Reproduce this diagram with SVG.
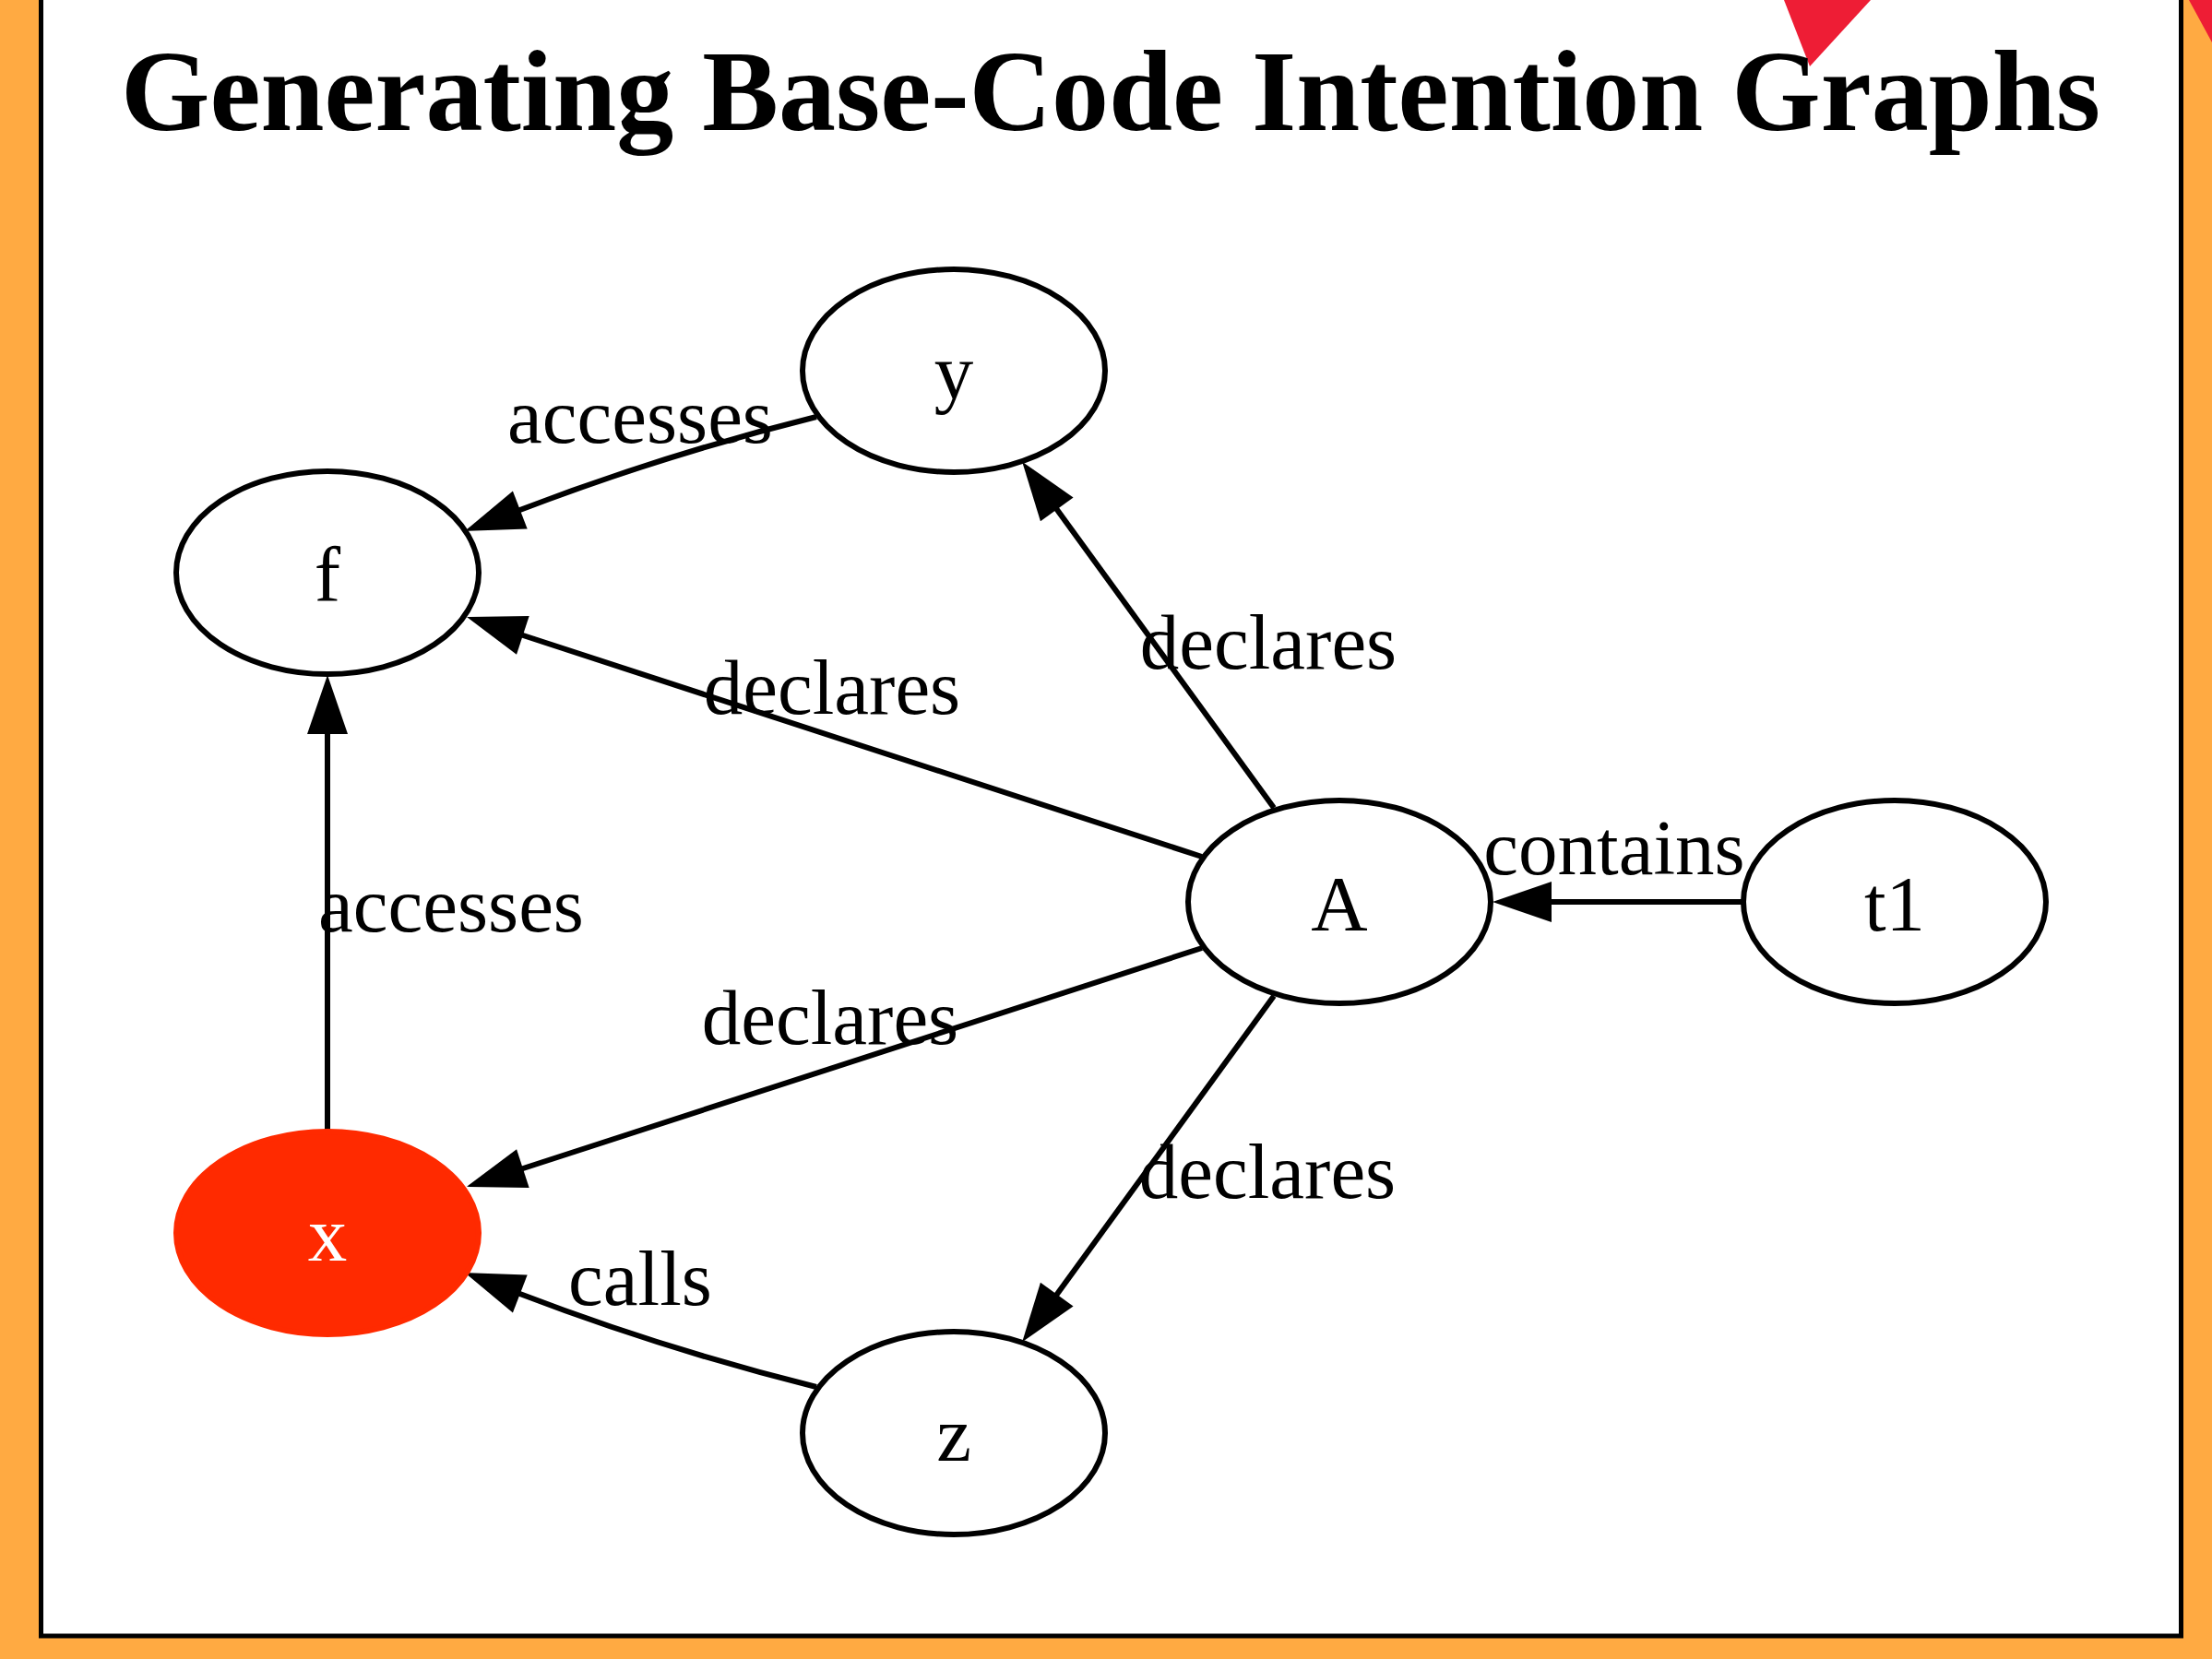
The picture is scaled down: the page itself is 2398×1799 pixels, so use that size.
<svg xmlns="http://www.w3.org/2000/svg" width="2398" height="1799" viewBox="0 0 2398 1799">
<defs>
<style>
.node ellipse{fill:#ffffff;stroke:#000000;stroke-width:6}
.lbl{font-family:"Liberation Serif","Times New Roman",serif;font-size:85px;fill:#000000;text-anchor:middle}
.edge path{fill:none;stroke:#000000;stroke-width:6;marker-end:url(#arrow)}
.title{font-family:"Liberation Serif","Times New Roman",serif;font-weight:bold;font-size:124px;fill:#000000;text-anchor:middle}
</style>
<marker id="arrow" markerUnits="userSpaceOnUse" markerWidth="70" markerHeight="50" viewBox="-4 -25 70 50" refX="0" refY="0" orient="auto">
<path d="M-3,-22 L61,0 L-3,22 Z" fill="#000000"/>
</marker>
</defs>
<rect x="0" y="0" width="2398" height="1799" fill="#FFAA42"/>
<rect x="44.5" y="-20" width="2320" height="1794" fill="#ffffff" stroke="#000000" stroke-width="5"/>
<polygon points="1934,0 2028,0 1962,72" fill="#EE1D35"/>
<polygon points="2373,0 2398,0 2398,46" fill="#EE1D35"/>
<text class="title" x="1204" y="141">Generating Base-Code Intention Graphs</text>
<g id="edges" class="edge">
<path d="M885,452 Q720,493 561,554"/>
<path d="M1303,929 L564,688"/>
<path d="M1381,876 L1144,550"/>
<path d="M1889,978 L1679,978"/>
<path d="M355,1228 L355,793"/>
<path d="M1303,1028 L564,1268"/>
<path d="M1381,1080 L1144,1406"/>
<path d="M885,1504 Q720,1463 561,1402"/>
<text class="lbl" x="694" y="480">accesses</text>
<text class="lbl" x="902" y="774">declares</text>
<text class="lbl" x="1375" y="725">declares</text>
<text class="lbl" x="1750" y="948">contains</text>
<text class="lbl" x="489" y="1010">accesses</text>
<text class="lbl" x="900" y="1132">declares</text>
<text class="lbl" x="1374" y="1299">declares</text>
<text class="lbl" x="694" y="1415">calls</text>
</g>
<g id="node-f" class="node"><ellipse cx="355" cy="621" rx="164" ry="110"/><text class="lbl" x="355" y="651">f</text></g>
<g id="node-y" class="node"><ellipse cx="1034" cy="402" rx="164" ry="110"/><text class="lbl" x="1034" y="432">y</text></g>
<g id="node-A" class="node"><ellipse cx="1452" cy="978" rx="164" ry="110"/><text class="lbl" x="1452" y="1009">A</text></g>
<g id="node-t1" class="node"><ellipse cx="2054" cy="978" rx="164" ry="110"/><text class="lbl" x="2054" y="1009">t1</text></g>
<g id="node-x" class="node"><ellipse cx="355" cy="1337" rx="164" ry="110" style="fill:#FF2A00;stroke:#FF2A00"/><text class="lbl" x="355" y="1367" style="fill:#ffffff">x</text></g>
<g id="node-z" class="node"><ellipse cx="1034" cy="1554" rx="164" ry="110"/><text class="lbl" x="1034" y="1584">z</text></g>
</svg>
